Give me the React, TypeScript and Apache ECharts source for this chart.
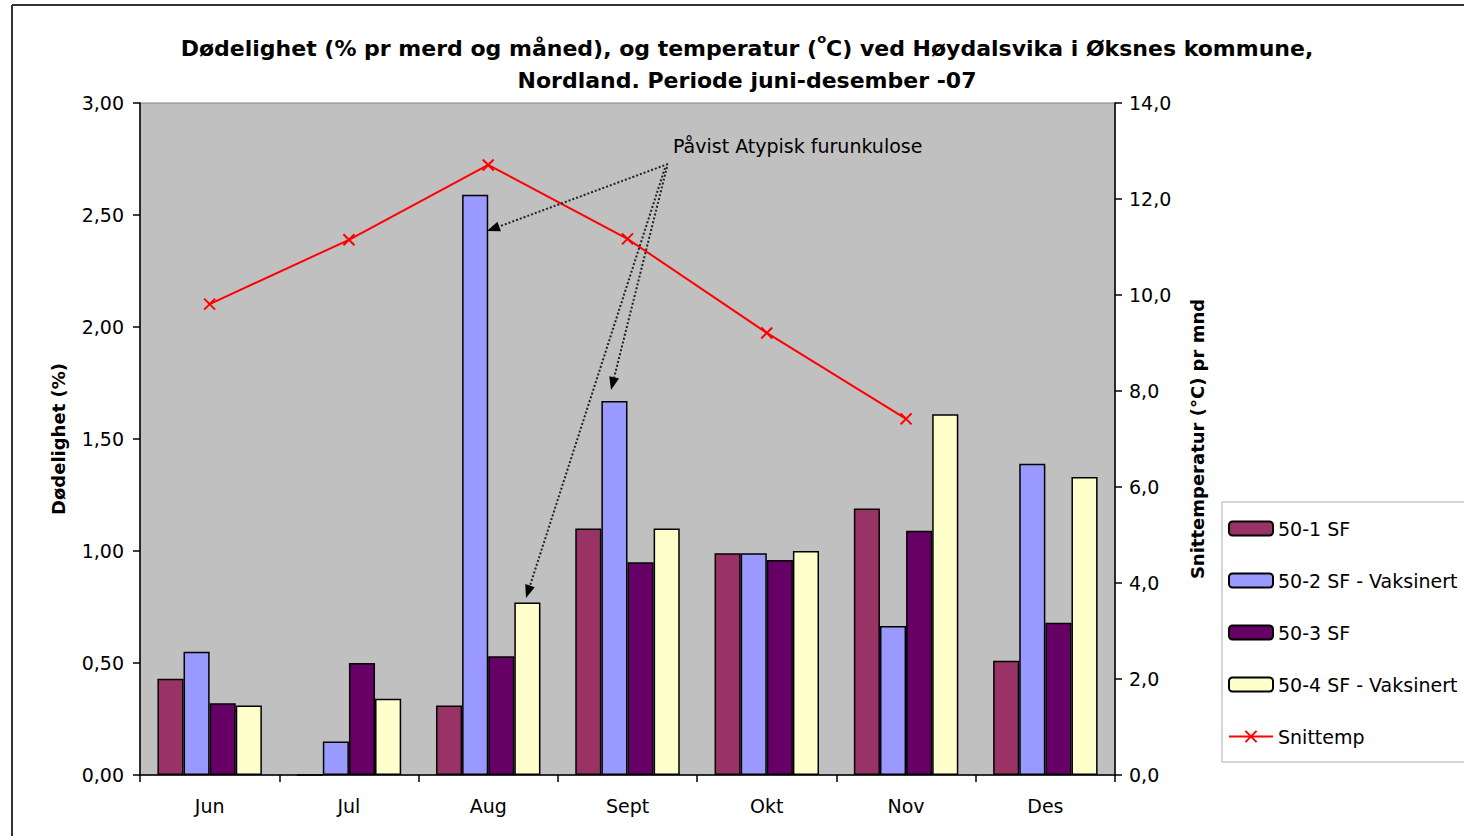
import React, { useEffect, useRef } from "react";
import * as echarts from "echarts";

const categories = ["Jun", "Jul", "Aug", "Sept", "Okt", "Nov", "Des"];
const s501 = [0.43, 0, 0.31, 1.1, 0.99, 1.19, 0.51];
const s502 = [0.55, 0.15, 2.59, 1.67, 0.99, 0.665, 1.39];
const s503 = [0.32, 0.5, 0.53, 0.95, 0.96, 1.09, 0.68];
const s504 = [0.31, 0.34, 0.77, 1.1, 1.0, 1.61, 1.33];
const snittemp = [9.81, 11.15, 12.71, 11.17, 9.21, 7.42, null];
const seriesNames = ["50-1 SF", "50-2 SF - Vaksinert", "50-3 SF", "50-4 SF - Vaksinert", "Snittemp"];
const barColors = ["#993366", "#9999FF", "#660066", "#FFFFCC"];

const FONT = "'DejaVu Sans', 'Liberation Sans', Arial, sans-serif";

function arrow(x1: number, y1: number, x2: number, y2: number) {
  const dx = x2 - x1, dy = y2 - y1;
  const len = Math.sqrt(dx * dx + dy * dy);
  const ux = dx / len, uy = dy / len;
  const L = 13, W = 5;
  const bx = x2 - ux * L, by = y2 - uy * L;
  const px = -uy, py = ux;
  return [
    {
      type: "line",
      shape: { x1, y1, x2: bx, y2: by },
      style: { stroke: "#222", lineWidth: 2, lineDash: [2, 2] },
      z: 100,
    },
    {
      type: "polygon",
      shape: { points: [[x2, y2], [bx + px * W, by + py * W], [bx - px * W, by - py * W]] },
      style: { fill: "#000" },
      z: 100,
    },
  ];
}

export default function App() {
  const ref = useRef<HTMLDivElement>(null);
  useEffect(() => {
    document.body.style.margin = "0";
    const chart = echarts.init(ref.current!, null, { renderer: "svg" });
    const bars = [s501, s502, s503, s504].map((d, i) => ({
      name: seriesNames[i],
      type: "bar",
      data: d,
      barGap: "0%",
      barCategoryGap: "25%",
      itemStyle: { color: barColors[i], borderColor: "#000", borderWidth: 1.5 },
    }));
    chart.setOption({
      animation: false,
      backgroundColor: "#fff",
      textStyle: { fontFamily: FONT },
      title: {
        text:
          "Dødelighet (% pr merd og måned), og temperatur ({sup|o}C) ved Høydalsvika i Øksnes kommune,\nNordland. Periode juni-desember -07",
        left: 742,
        top: 27,
        textAlign: "center",
        textStyle: {
          fontFamily: FONT,
          fontSize: 22,
          fontWeight: "bold",
          color: "#000",
          lineHeight: 32,
          rich: {
            sup: { fontSize: 13, fontWeight: "bold", verticalAlign: "top", lineHeight: 32, padding: [0, 0, 10, 0] },
          },
        },
      },
      grid: {
        left: 140,
        right: 349,
        top: 103,
        bottom: 61,
        show: true,
        backgroundColor: "#C0C0C0",
        borderColor: "#808080",
        borderWidth: 1,
      },
      legend: {
        orient: "vertical",
        left: 1223,
        top: 514,
        itemWidth: 44,
        itemHeight: 14,
        itemGap: 33,
        textStyle: { fontFamily: FONT, fontSize: 19, color: "#000" },
        data: seriesNames,
      },
      xAxis: {
        type: "category",
        data: categories,
        axisLine: { lineStyle: { color: "#000", width: 1.5 } },
        axisTick: { show: true, length: 7, lineStyle: { color: "#000", width: 1.5 } },
        axisLabel: { color: "#000", fontSize: 19, margin: 21, fontFamily: FONT },
      },
      yAxis: [
        {
          type: "value",
          min: 0,
          max: 3,
          interval: 0.5,
          name: "Dødelighet (%)",
          nameLocation: "middle",
          nameRotate: 90,
          nameGap: 73,
          nameTextStyle: { fontFamily: FONT, fontSize: 18, fontWeight: "bold", color: "#000" },
          axisLine: { show: true, lineStyle: { color: "#000", width: 1.5 } },
          axisTick: { show: true, length: 7, lineStyle: { color: "#000", width: 1.5 } },
          splitLine: { show: false },
          axisLabel: {
            color: "#000",
            fontSize: 19,
            margin: 16,
            fontFamily: FONT,
            formatter: (v: number) => v.toFixed(2).replace(".", ","),
          },
        },
        {
          type: "value",
          min: 0,
          max: 14,
          interval: 2,
          position: "right",
          name: "Snittemperatur (°C) pr mnd",
          nameLocation: "middle",
          nameRotate: 90,
          nameGap: 73,
          nameTextStyle: { fontFamily: FONT, fontSize: 18, fontWeight: "bold", color: "#000" },
          axisLine: { show: true, lineStyle: { color: "#000", width: 1.5 } },
          axisTick: { show: true, length: 7, lineStyle: { color: "#000", width: 1.5 } },
          splitLine: { show: false },
          axisLabel: {
            color: "#000",
            fontSize: 19,
            margin: 14,
            fontFamily: FONT,
            formatter: (v: number) => v.toFixed(1).replace(".", ","),
          },
        },
      ],
      series: [
        ...bars,
        {
          name: seriesNames[4],
          type: "line",
          yAxisIndex: 1,
          data: snittemp,
          symbol: "path://M0,0L10,10M10,0L0,10",
          symbolSize: 11,
          showSymbol: true,
          lineStyle: { color: "#FF0000", width: 2 },
          itemStyle: { color: "#FF0000", borderColor: "#FF0000", borderWidth: 2 },
          z: 10,
        },
      ],
      graphic: [
        {
          type: "line",
          shape: { x1: 12, y1: 5, x2: 1464, y2: 5 },
          style: { stroke: "#333", lineWidth: 2 },
        },
        {
          type: "line",
          shape: { x1: 12, y1: 5, x2: 12, y2: 836 },
          style: { stroke: "#333", lineWidth: 2 },
        },
        {
          type: "rect",
          shape: { x: 1222, y: 502, width: 260, height: 260 },
          style: { fill: "#fff", stroke: "#C8C8C8", lineWidth: 1.5 },
          z: -1,
        },
        {
          type: "text",
          x: 673,
          y: 146,
          style: {
            text: "Påvist Atypisk furunkulose",
            fontFamily: FONT,
            fontSize: 19,
            fill: "#000",
            verticalAlign: "middle",
          },
          z: 100,
        },
        ...arrow(668, 164, 487, 231),
        ...arrow(667, 167, 611, 390),
        ...arrow(665, 168, 526, 598),
      ],
    });
    return () => chart.dispose();
  }, []);
  return <div ref={ref} style={{ width: 1464, height: 836 }} />;
}
